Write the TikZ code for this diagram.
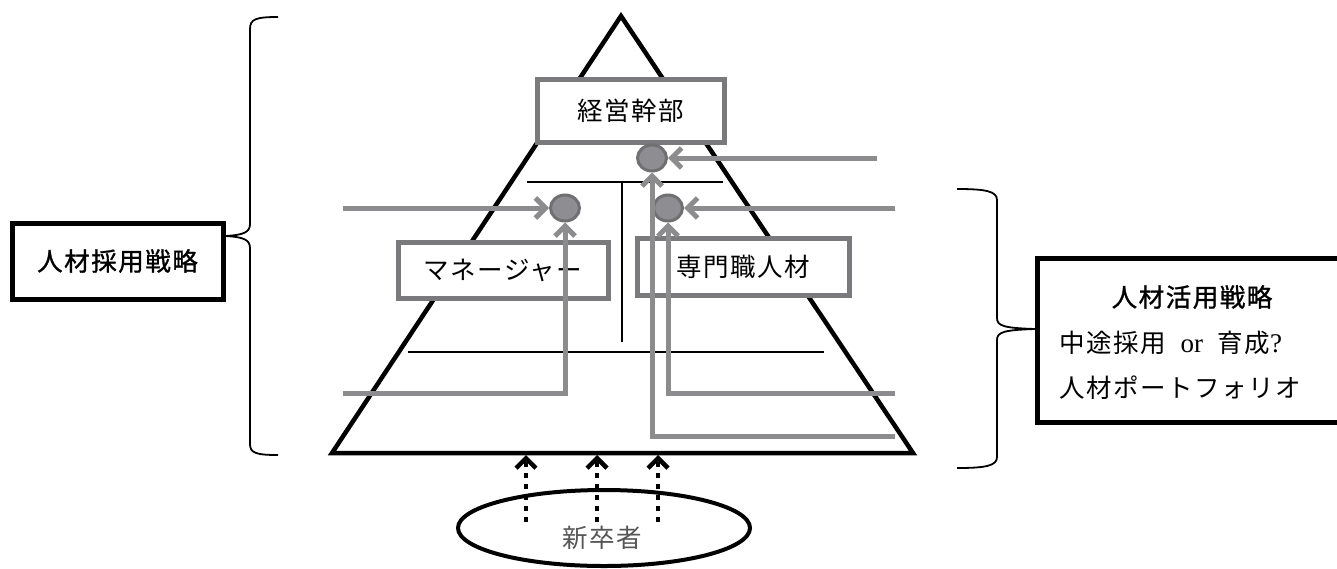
\documentclass[tikz,border=0pt]{standalone}
\usepackage{fontspec}
\newfontfamily\jp[LetterSpace=6]{Noto Sans CJK JP}
\newfontfamily\jpb[LetterSpace=6,FakeBold=1.2]{Noto Sans CJK JP}
\newfontfamily\lat{Liberation Serif}
\usetikzlibrary{arrows.meta,shapes.geometric}
\definecolor{lg}{RGB}{140,140,142}
\definecolor{bg}{RGB}{122,122,124}
\definecolor{cf}{RGB}{142,142,146}
\definecolor{cb}{RGB}{112,112,114}
\definecolor{tg}{RGB}{85,85,85}
\begin{document}
\begin{tikzpicture}[x=1pt,y=-1pt,
  every node/.style={font=\jp\fontsize{25.5}{30}\selectfont},
  boldtext/.style={font=\jpb\fontsize{25.5}{30}\selectfont},
  graybox/.style={draw=bg, line width=5pt, fill=white, inner sep=0pt},
  blackbox/.style={draw=black, line width=5pt, fill=white, inner sep=0pt},
  dotnode/.style={ellipse, draw=cb, fill=cf, line width=3pt, minimum width=29pt, minimum height=26pt, inner sep=0pt},
  garrow/.style={draw=lg, line width=5pt, -{Straight Barb[length=10pt,width=20pt]}},
  thinline/.style={draw=black, line width=2pt},
  dotarrow/.style={draw=black, line width=4pt, dash pattern=on 5pt off 6pt, -{Straight Barb[length=10pt,width=20pt,line width=4.5pt]}},
  bracestyle/.style={draw=black, line width=1.8pt}
]
\useasboundingbox (0,0) rectangle (1337,568);

% pyramid
\coordinate (apex) at (621,16);
\coordinate (bl) at (332,453);
\coordinate (br) at (913,453);
\draw[line width=4.5pt, line join=miter] (apex) -- (br) -- (bl) -- cycle;

% thin inner lines
\coordinate (t1) at (527,182);
\coordinate (t2) at (723,182);
\coordinate (t3) at (622,182);
\coordinate (t4) at (622,342);
\coordinate (t5) at (408,352);
\coordinate (t6) at (824,352);
\draw[thinline] (t1) -- (t2);
\draw[thinline] (t3) -- (t4);
\draw[thinline] (t5) -- (t6);

% boxes
\node[graybox, minimum width=187pt, minimum height=63pt] (top) at (630.5,110.5) {経営幹部};
\node[graybox, minimum width=210pt, minimum height=56pt] (mgr) at (503,270) {マネージャー};
\node[graybox, minimum width=212pt, minimum height=57pt] (spc) at (743,266.5) {専門職人材};

% circles
\node[dotnode] (ct) at (652,158) {};
\node[dotnode] (cl) at (565,208) {};
\node[dotnode] (cr) at (668,208) {};

% gray arrows
\coordinate (a1) at (877,158);
\coordinate (a2) at (343,208);
\coordinate (a3) at (895,208);
\coordinate (a4) at (343,393);
\coordinate (a5) at (895,393);
\coordinate (a6) at (895,436);
\draw[garrow] (a1) -- (ct);
\draw[garrow] (a2) -- (cl);
\draw[garrow] (a3) -- (cr);
\draw[garrow] (a4) -| (cl.south);
\draw[garrow] (a5) -| (cr.south);
\draw[garrow] (a6) -| (ct.south);

% left strategy box and brace
\node[blackbox, boldtext, minimum width=211pt, minimum height=76pt] (lbox) at (117.5,261) {人材採用戦略};
\draw[bracestyle] (278,17) .. controls (256,17) and (250,19) .. (250,29) -- (250,224)
  .. controls (250,232) and (244,235) .. (lbox.north east |- 0,236)
  .. controls (244,237) and (250,240) .. (250,248) -- (250,444)
  .. controls (250,453) and (256,455) .. (278,455);

% right strategy box and brace
\node[blackbox, minimum width=305pt, minimum height=164pt, anchor=north west] (rbox) at (1035,256) {};
\node[boldtext] (rt) at (1192,297) {人材活用戦略};
\node[anchor=west] (r1) at (1056,343) {中途採用\ \ {\lat\fontsize{27}{30}\selectfont or}\ \ 育成{\lat\fontsize{27}{30}\selectfont ?}};
\node[anchor=west] (r2) at (1056,388) {人材ポートフォリオ};
\draw[bracestyle] (957,189) .. controls (985,189) and (997,191) .. (997,200) -- (997,318)
  .. controls (997,326) and (1004,328) .. (rbox.west |- 0,329)
  .. controls (1004,330) and (997,332) .. (997,340) -- (997,457)
  .. controls (997,466) and (985,468) .. (957,468);

% new graduates
\node[ellipse, draw=black, line width=4pt, minimum width=292pt, minimum height=76pt, inner sep=0pt] (grad) at (604,528) {};
\node[text=tg] (gt) at (602,538) {新卒者};
\coordinate (d1s) at (526,522);
\coordinate (d1e) at (526,455);
\coordinate (d2s) at (597,522);
\coordinate (d2e) at (597,455);
\coordinate (d3s) at (658,522);
\coordinate (d3e) at (658,455);
\draw[dotarrow] (d1s) -- (d1e);
\draw[dotarrow] (d2s) -- (d2e);
\draw[dotarrow] (d3s) -- (d3e);
\end{tikzpicture}
\end{document}
